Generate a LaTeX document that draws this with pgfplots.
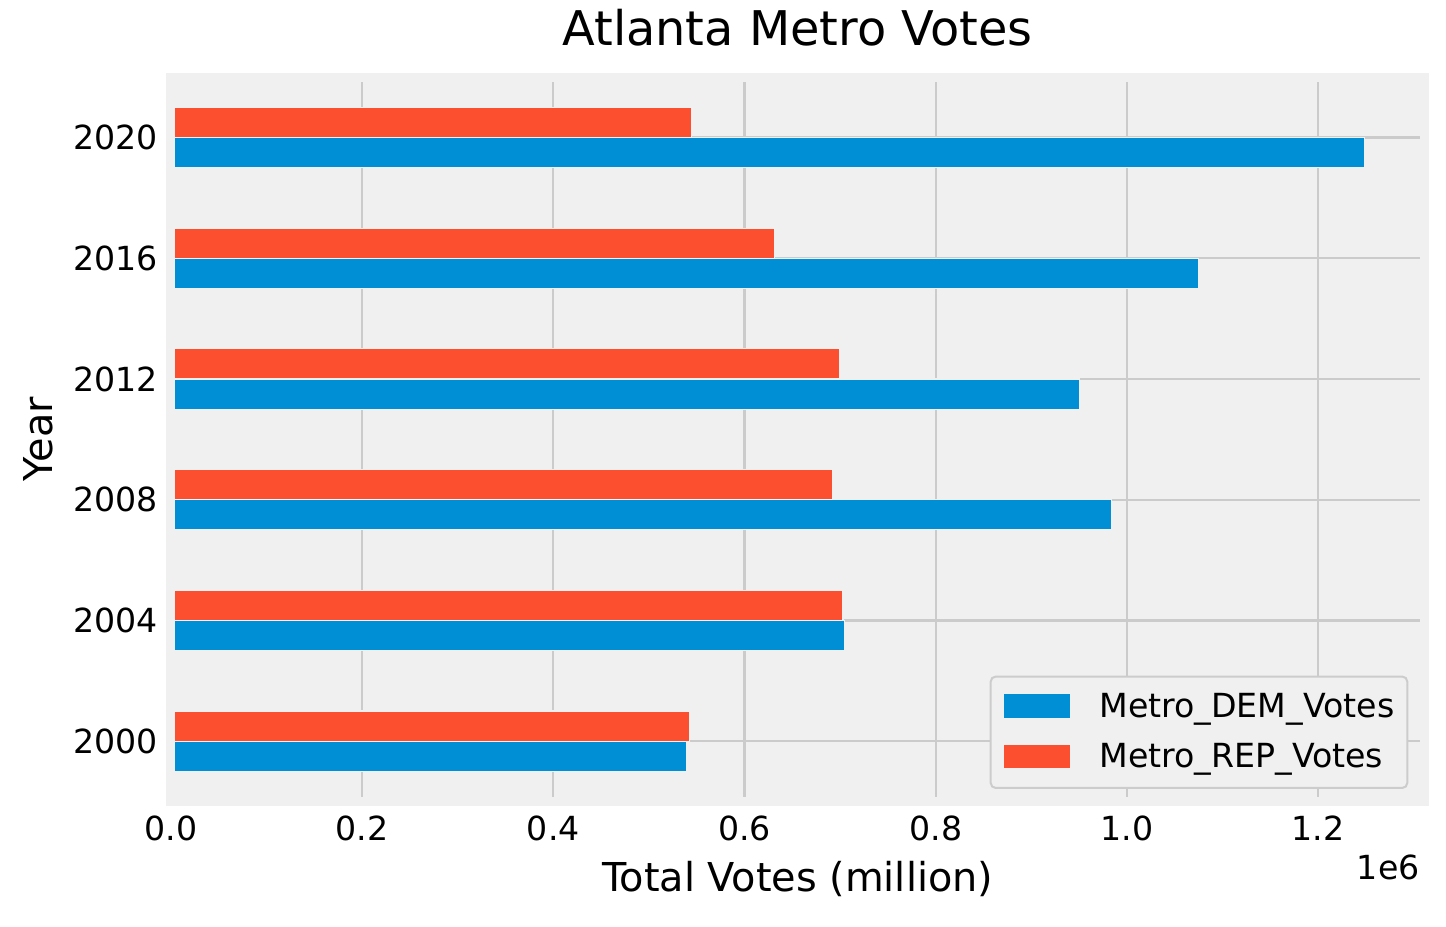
\documentclass[border=0pt]{standalone}
\usepackage{fontspec}
\setmainfont{DejaVu Sans}
\usepackage{pgfplots}
\pgfplotsset{compat=1.18}
\definecolor{bgc}{HTML}{F0F0F0}
\definecolor{gridc}{HTML}{CBCBCB}
\definecolor{demc}{HTML}{008FD5}
\definecolor{repc}{HTML}{FC4F30}
\definecolor{legc}{HTML}{CCCCCC}
\pgfplotsset{
  layers/mylayers/.define layer set={
    axis background,axis grid,main,axis ticks,axis lines,axis tick labels,
    axis descriptions,axis foreground
  }{
    grid style={/pgfplots/on layer=axis grid},
    tick style={/pgfplots/on layer=axis ticks},
    axis line style={/pgfplots/on layer=axis lines},
    label style={/pgfplots/on layer=axis descriptions},
    legend style={/pgfplots/on layer=axis descriptions},
    title style={/pgfplots/on layer=axis descriptions},
    colorbar style={/pgfplots/on layer=axis descriptions},
    ticklabel style={/pgfplots/on layer=axis tick labels},
    axis background@ style={/pgfplots/on layer=axis background},
    3d box foreground style={/pgfplots/on layer=axis foreground},
  },
}
\begin{document}
\begin{tikzpicture}
\begin{axis}[
  set layers=mylayers,
  scale only axis, width=626.8pt, height=362.15pt,
  clip=false,
  xbar,
  xmin=0, xmax=1311135, ymin=-0.5, ymax=5.5,
  axis background/.style={fill=bgc, draw=bgc, line width=4.5pt},
  axis line style={draw=bgc, line width=4.5pt},
  xmajorgrids, ymajorgrids,
  grid style={draw=gridc, line width=1.1pt},
  major tick length=0pt,
  scaled x ticks=false,
  xtick={0,200000,400000,600000,800000,1000000,1200000},
  xticklabels={0.0,0.2,0.4,0.6,0.8,1.0,1.2},
  ytick={0,1,2,3,4,5},
  yticklabels={2000,2004,2008,2012,2016,2020},
  tick label style={font=\fontsize{16.6}{19}\selectfont, inner sep=0pt},
  xticklabel style={anchor=north, yshift=-6.8pt},
  yticklabel style={anchor=east, xshift=-6.3pt},
  title={Atlanta Metro Votes},
  title style={font=\fontsize{23.9}{28}\selectfont, at={(axis description cs:0.5,1)}, anchor=base, yshift=10pt, inner sep=0pt},
  xlabel={Total Votes (million)},
  xlabel style={font=\fontsize{19.9}{23}\selectfont, at={(axis description cs:0.5,0)}, anchor=base, yshift=-45pt, inner sep=0pt},
  ylabel={Year},
  ylabel style={font=\fontsize{19.9}{23}\selectfont, at={(axis description cs:-0.0944,0.5)}, anchor=base, inner sep=0pt},
  legend cell align=left,
  legend style={
    at={(0.9871,0.0173)}, anchor=south east,
    draw=legc, fill=bgc, line width=1pt, rounded corners=2.5pt,
    inner xsep=6.5pt, inner ysep=8.5pt,
    row sep=11.5pt, column sep=14.5pt,
    font=\fontsize{16.6}{19}\selectfont,
    nodes={inner sep=0pt},
    cells={anchor=base west},
  },
  legend image code/.code={\fill[#1, draw=none, sharp corners] (0pt,0pt) rectangle (33.35pt,11.65pt);},
]
\addplot[fill=demc, draw=bgc, line width=0.6pt, bar width=0.25, bar shift=-0.125] coordinates {
  (539000,0) (704600,1) (983700,2) (950500,3) (1074700,4) (1248700,5)
};
\addlegendentry{Metro\_DEM\_Votes}
\addplot[fill=repc, draw=bgc, line width=0.6pt, bar width=0.25, bar shift=0.125] coordinates {
  (542400,0) (702900,1) (691700,2) (699400,3) (631000,4) (544200,5)
};
\addlegendentry{Metro\_REP\_Votes}
\node[anchor=base east, inner sep=0pt, xshift=-2.25pt, yshift=-39.25pt, font=\fontsize{16.6}{19}\selectfont] at (rel axis cs:1,0) {1e6};
\coordinate (bbsw) at (rel axis cs:-0.1363,-0.1719);
\coordinate (bbne) at (rel axis cs:1.0172,1.1066);
\end{axis}
\path (bbsw) rectangle (bbne);
\end{tikzpicture}
\end{document}
